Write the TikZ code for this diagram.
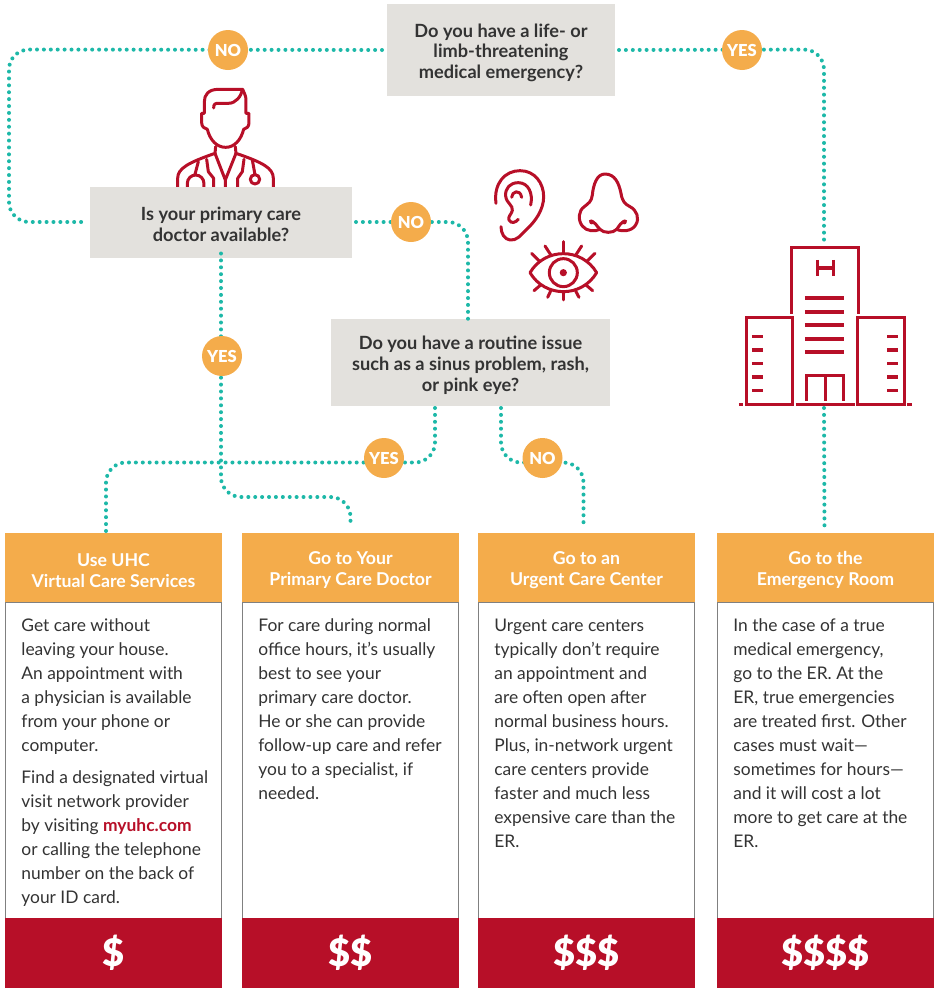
\documentclass[tikz,border=0pt]{standalone}
\usepackage{fontspec}
\setmainfont{Lato}
\newfontface\latoblack{Lato Black}
\usepackage{tikz}
\usetikzlibrary{positioning,calc}
\definecolor{teal1}{HTML}{1DB8A8}
\definecolor{amber1}{HTML}{F4AC4B}
\definecolor{crimson1}{HTML}{B70F28}
\definecolor{stone1}{HTML}{E3E1DD}
\definecolor{ink1}{HTML}{333333}
\newcommand{\lift}{\rule{0pt}{18.5pt}}

\begin{document}
\begin{tikzpicture}[
    x=1pt, y=-1pt,
    qbox/.style={fill=stone1, text=ink1, inner sep=0pt, outer sep=0pt, align=center,
                 font=\fontsize{18.2}{20.6}\selectfont\bfseries},
    badge/.style={circle, fill=amber1, text=white, inner sep=0pt, minimum size=40pt,
                  font=\fontsize{16.5}{18}\latoblack},
    head/.style={fill=amber1, text=white, inner sep=0pt, outer sep=0pt, minimum width=217pt,
                 minimum height=70pt, align=center, font=\fontsize{17.7}{20.8}\selectfont\bfseries},
    panel/.style={draw=gray, line width=0.8pt, fill=white, inner sep=0pt, outer sep=0pt,
                  minimum width=216.2pt, minimum height=315.5pt},
    foot/.style={fill=crimson1, text=white, inner sep=0pt, outer sep=0pt, minimum width=217pt,
                 minimum height=69.5pt, font=\fontsize{38}{40}\latoblack},
    bodytext/.style={inner sep=0pt, outer sep=0pt, text=ink1, align=left,
                     font=\fontsize{17.4}{24}\selectfont, execute at begin node=\strut},
    link/.style={teal1, line width=4pt, line cap=round, dash pattern=on 0pt off 6.9pt,
                 rounded corners=20pt},
    icon/.style={crimson1, line width=3pt, line cap=round, line join=round},
  ]
    \useasboundingbox (0,0) rectangle (938,991);

    % Doctor icon (behind the box)
    \begin{scope}[shift={(165,80)}, x=0.3333pt, y=-0.3333pt]
      \draw[icon]
        (233,28) -- (160,28) .. controls (130,28) and (118,45) .. (118,65) -- (118,100) -- (110,100)
        -- (110,128) .. controls (110,140) and (118,146) .. (127,148)
        .. controls (135,180) and (155,202) .. (182,202) .. controls (208,202) and (228,180) .. (236,148)
        .. controls (245,146) and (252,140) .. (252,128) -- (252,100) -- (243,100) -- (243,60)
        .. controls (243,48) and (238,40) .. (233,28);
      \draw[icon]
        (146,84) .. controls (146,72) and (150,70) .. (160,70) -- (190,70)
        .. controls (212,70) and (228,50) .. (233,28);
      \draw[icon]
        (38,330) -- (38,295) .. controls (38,265) and (70,248) .. (150,220) -- (152,200);
      \draw[icon]
        (325,330) -- (325,295) .. controls (325,265) and (295,248) .. (213,220) -- (211,200);
      \draw[icon]
        (150,220) -- (181,300) -- (213,220) (181,300) -- (181,330);
      \draw[icon]
        (125,238) -- (130,275) -- (146,295) -- (146,330)
        (237,238) -- (232,275) -- (218,295) -- (218,330);
      \draw[icon]
        (100,245) -- (90,283) (67,330) -- (67,310) arc[start angle=180, end angle=0, radius=8.3pt] -- (117,330);
      \draw[icon]
        (262,240) -- (270,284) (270,298) circle[radius=4.7pt];
    \end{scope}

    % Question boxes
    \node[qbox, minimum width=228pt, minimum height=92pt] (lifeQ) at (501,50)
        {\lift Do you have a life- or\\limb-threatening\\medical emergency?};
    \node[qbox, minimum width=262pt, minimum height=71pt] (doctorQ) at (221,222)
        {\lift Is your primary care\\doctor available?};
    \node[qbox, minimum width=279pt, minimum height=87pt] (routineQ) at (470.5,362.7)
        {\lift Do you have a routine issue\\such as a sinus problem, rash,\\or pink eye?};

    % Result cards
    \node[head, anchor=north west] (headA) at (5,532.5) {\lift Use UHC\\Virtual Care Services};
    \node[head, right=20pt of headA] (headB) {\lift Go to Your\\Primary Care Doctor};
    \node[head, right=19pt of headB] (headC) {\lift Go to an\\Urgent Care Center};
    \node[head, right=22pt of headC] (headD) {\lift Go to the\\Emergency Room};

    \node[panel, below=0pt of headA] (panelA) {};
    \node[panel, below=0pt of headB] (panelB) {};
    \node[panel, below=0pt of headC] (panelC) {};
    \node[panel, below=0pt of headD] (panelD) {};

    \node[foot, below=0pt of panelA] (footA) {\$};
    \node[foot, below=0pt of panelB] (footB) {\$\$};
    \node[foot, below=0pt of panelC] (footC) {\$\$\$};
    \node[foot, below=0pt of panelD] (footD) {\$\$\$\$};

    \node[bodytext, below right=16pt and 16pt of panelA.north west] (textA)
        {Get care without\\leaving your house.\\An appointment with\\a physician is available\\from your phone or\\computer.\\[8pt]
         Find a designated virtual\\visit network provider\\by visiting {\color{crimson1}\bfseries myuhc.com}\\or calling the telephone\\number on the back of\\your ID card.};
    \node[bodytext, below right=16pt and 16pt of panelB.north west] (textB)
        {For care during normal\\office hours, it’s usually\\best to see your\\primary care doctor.\\He or she can provide\\follow-up care and refer\\you to a specialist, if\\needed.};
    \node[bodytext, below right=16.5pt and 16pt of panelC.north west] (textC)
        {Urgent care centers\\typically don’t require\\an appointment and\\are often open after\\normal business hours.\\Plus, in-network urgent\\care centers provide\\faster and much less\\expensive care than the\\ER.};
    \node[bodytext, below right=16pt and 16pt of panelD.north west] (textD)
        {In the case of a true\\medical emergency,\\go to the ER. At the\\ER, true emergencies\\are treated first. Other\\cases must wait—\\sometimes for hours—\\and it will cost a lot\\more to get care at the\\ER.};

    % Turning points and free ends
    \coordinate (cornerNW) at (9,49.5);
    \coordinate (cornerSW) at (9,222);
    \coordinate (cornerNE) at (824,49.5);
    \coordinate (hospitalTop) at (824,242);
    \coordinate (hospitalBase) at (824,408);
    \coordinate (cornerMid) at (468,222);
    \coordinate (bendDoctor) at (290,497);
    \coordinate (legYes) at (435,408);
    \coordinate (legNo) at (501,408);
    \coordinate (bendYes) at (300,462.5);
    \coordinate (bendNo) at (542,462.5);
    \coordinate (dropA) at ($(headA.north)+(-7.5,0)$);
    \coordinate (dropC) at ($(headC.north)+(-3,-4)$);

    % Dotted connectors
    \draw[link] ([xshift=-5pt]lifeQ.west) -- (cornerNW) -- (cornerSW) -- ([xshift=-4pt]doctorQ.west);
    \draw[link] ([xshift=4pt]lifeQ.east) -- (cornerNE) -- (hospitalTop);
    \draw[link] (hospitalBase) -- ($(headD.north)+(-1,-5)$);
    \draw[link] ([xshift=4pt]doctorQ.east) -- (cornerMid) -- ([yshift=-3pt]cornerMid |- routineQ.north);
    \draw[link] ([yshift=4pt]doctorQ.south) |- (bendDoctor) -| ($(headB.north)+(0,-6)$);
    \draw[link] (legYes) |- (bendYes) -| (dropA);
    \draw[link] (legNo) |- (bendNo) -| (dropC);

    % Badges
    \node[badge] (noA) at (228,50) {NO};
    \node[badge] (yesA) at (742,50) {YES};
    \node[badge] (noB) at (411,222) {NO};
    \node[badge] (yesB) at (222,356) {YES};
    \node[badge] (yesC) at (384,458) {YES};
    \node[badge] (noC) at (542.5,458) {NO};

    \begin{scope}[shift={(485,160)}, x=0.3333pt, y=-0.3333pt]
      % Ear icon
      \draw[icon]
        (33,130) .. controls (25,70) and (60,32) .. (105,32) .. controls (150,32) and (176,70) .. (176,110)
        .. controls (176,150) and (150,185) .. (125,208) .. controls (105,228) and (95,242) .. (75,240)
        .. controls (58,238) and (48,220) .. (48,200);
      \draw[icon]
        (137,135) .. controls (145,100) and (130,68) .. (100,68) .. controls (75,68) and (60,85) .. (62,108)
        .. controls (64,130) and (85,135) .. (82,152) .. controls (78,165) and (68,170) .. (72,180)
        .. controls (78,192) and (92,188) .. (100,178);
      \draw[icon]
        (80,112) .. controls (80,95) and (105,85) .. (110,112);

      % Nose icon
      \draw[icon]
        (360,42) .. controls (335,42) and (325,75) .. (322,105) .. controls (320,125) and (310,130) .. (298,140)
        .. controls (280,152) and (278,180) .. (292,198) .. controls (305,215) and (330,215) .. (345,208)
        .. controls (355,220) and (385,220) .. (395,208) .. controls (410,215) and (440,215) .. (452,195)
        .. controls (465,175) and (455,150) .. (435,140) .. controls (420,132) and (412,125) .. (408,100)
        .. controls (402,70) and (390,42) .. (360,42);
      \draw[icon]
        (316,183) .. controls (330,185) and (335,198) .. (345,208)
        (422,183) .. controls (408,185) and (403,198) .. (395,208);
      \fill[crimson1] (320,186) circle[radius=2.4pt] (418,186) circle[radius=2.4pt];

      % Eye icon
      \draw[icon]
        (135,338) .. controls (180,262) and (290,262) .. (335,338) .. controls (290,414) and (180,414) .. cycle;
      \draw[icon] (235,338) circle[radius=14pt];
      \fill[crimson1] (235,338) circle[radius=3.6pt];
      \foreach \xa/\ya/\xb/\yb in {235/245/235/276, 180/258/197/284, 290/258/273/284, 140/280/165/305,
                                   330/280/305/305, 147/392/167/375, 323/392/303/375, 188/412/197/393,
                                   282/412/272/393, 235/420/235/398}
        \draw[icon] (\xa,\ya) -- (\xb,\yb);
    \end{scope}

    % Hospital icon
    \begin{scope}[shift={(470,150)}, x=0.3333pt, y=-0.3333pt]
      \draw[crimson1, line width=3pt] (966,492) -- (966,292) -- (1167,292) -- (1167,492);
      \draw[crimson1, line width=3.5pt] (1042,330) -- (1042,378) (1090,330) -- (1090,378) (1042,354) -- (1090,354);
      \foreach \ya in {445,486,526,567,607}
        \draw[crimson1, line width=4pt] (1005,\ya) -- (1122,\ya);
      \draw[crimson1, line width=3pt] (1010,752) -- (1010,678) -- (1122,678) -- (1122,752) (1066,678) -- (1066,752);
      \draw[crimson1, line width=3pt] (829,502) rectangle (968,765);
      \draw[crimson1, line width=3pt] (1164,502) rectangle (1303,765);
      \draw[crimson1, line width=3pt] (977,763) -- (1155,763) (807,763) -- (820,763) (1312,763) -- (1325,763);
      \foreach \ya in {560,600,641,681,721} {
        \draw[crimson1, line width=3.5pt] (846,\ya) -- (879,\ya);
        \draw[crimson1, line width=3.5pt] (1252,\ya) -- (1285,\ya);
      }
    \end{scope}
  \end{tikzpicture}
\end{document}
